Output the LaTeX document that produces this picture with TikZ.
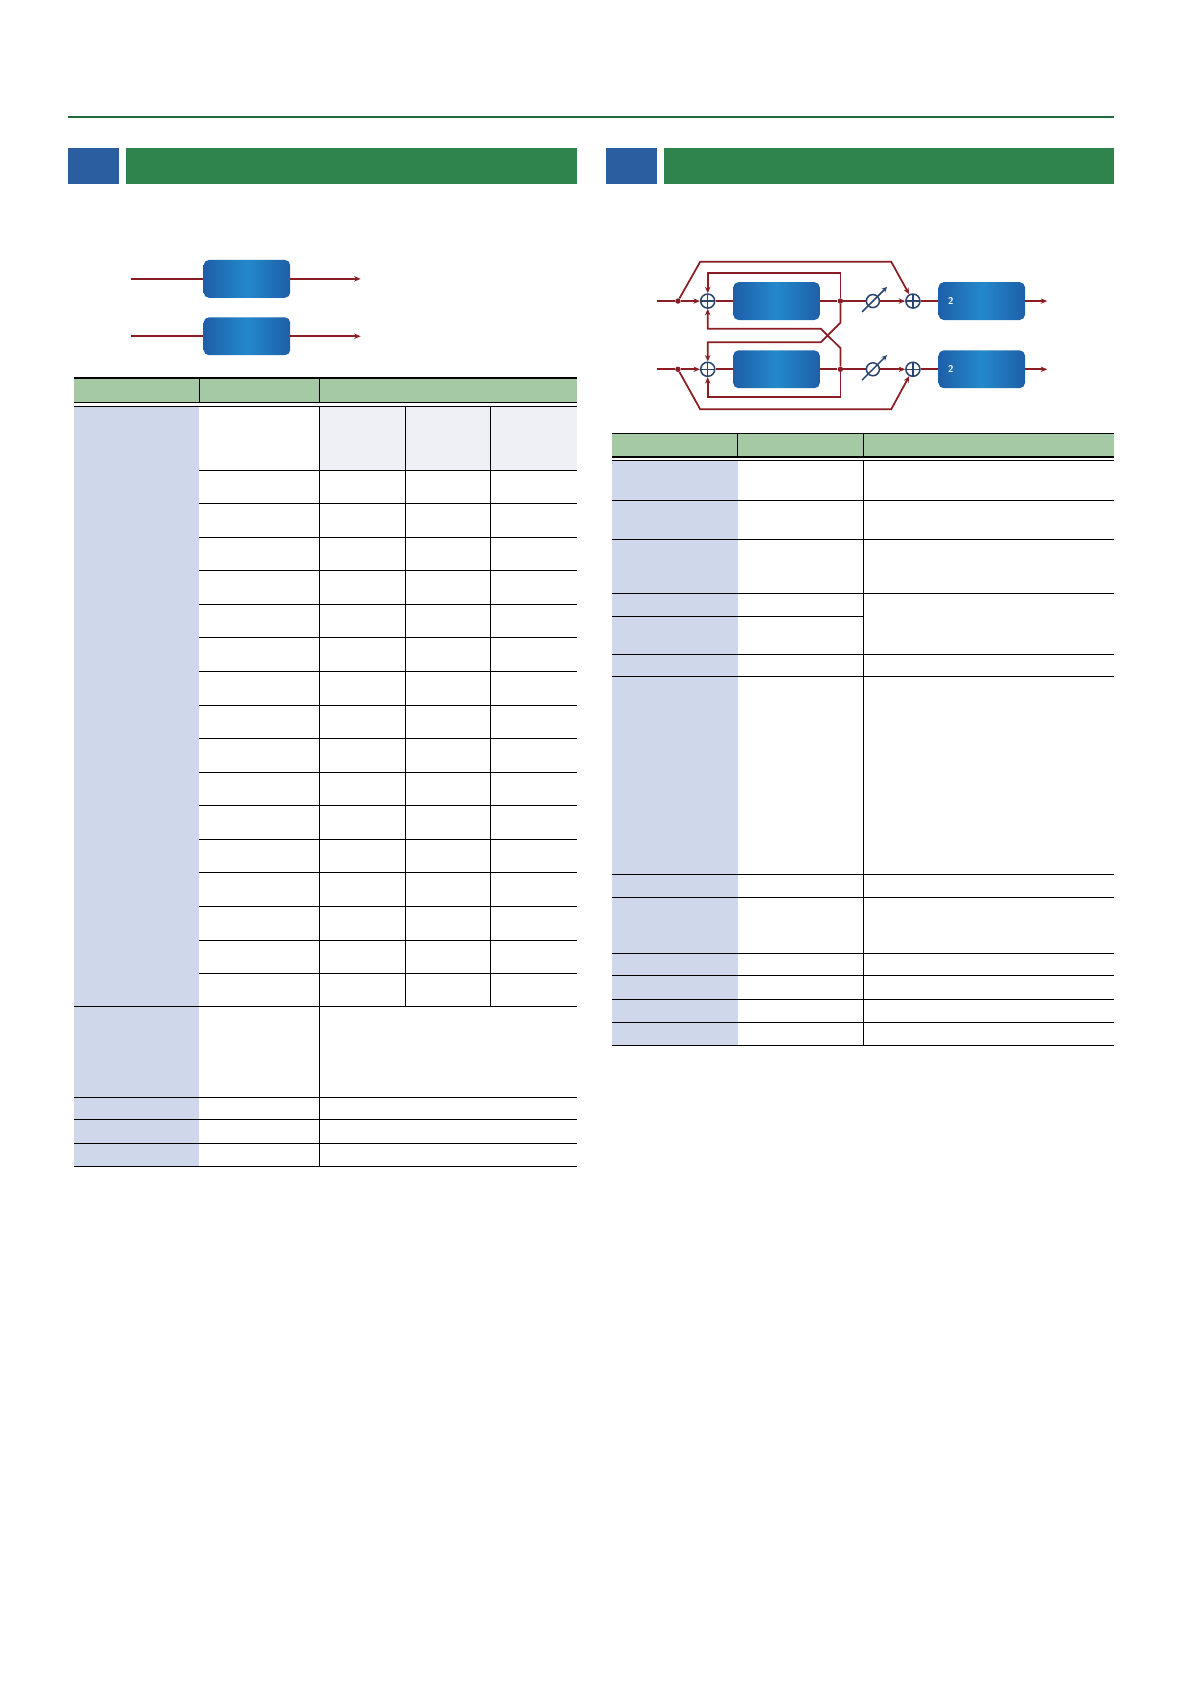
\documentclass[tikz,border=0pt]{standalone}
\usetikzlibrary{arrows.meta}
\definecolor{dgreen}{HTML}{1E6B3C}
\definecolor{bgreen}{HTML}{2E844C}
\definecolor{bblue}{HTML}{2A5EA0}
\definecolor{hgreen}{HTML}{A5C8A5}
\definecolor{lblue}{HTML}{CFD8EA}
\definecolor{llblue}{HTML}{EEF0F6}
\definecolor{wire}{HTML}{8B1E24}
\definecolor{navy}{HTML}{2A4470}
\definecolor{boxd}{HTML}{1E5FA8}
\definecolor{boxl}{HTML}{2488CC}
\tikzset{
 fx/.style={rounded corners=5pt,inner sep=0pt,draw=none,left color=boxd,right color=boxd,middle color=boxl,minimum width=80pt,minimum height=35pt},
 wr/.style={wire,line width=1.6pt},
 ar/.style={wr,-{Stealth[length=6pt,width=5pt]}},
 sumc/.style={circle,draw=navy,line width=1.4pt,minimum size=13pt,inner sep=0pt,fill=white,
   path picture={\draw[navy,line width=1.2pt](path picture bounding box.north)--(path picture bounding box.south)(path picture bounding box.west)--(path picture bounding box.east);}},
 gainc/.style={circle,draw=navy,line width=1.4pt,minimum size=12pt,inner sep=0pt,fill=white},
 dot/.style={circle,fill=wire,minimum size=5pt,inner sep=0pt},
 tl/.style={black,line width=0.8pt}
}
\begin{document}
\begin{tikzpicture}[x=1pt,y=-1pt]
\useasboundingbox (0,0) rectangle (1100,1555);
\fill[white] (0,0) rectangle (1100,1555);
% top rule
\draw[dgreen,line width=2.5pt] (63,108)--(1029,108);
% section bars
\fill[bblue] (63,137) rectangle (110,170);
\fill[bgreen] (116,137) rectangle (533,170);
\fill[bblue] (560,137) rectangle (607,170);
\fill[bgreen] (613,137) rectangle (1029,170);

% ===== left diagram =====
\node[fx] (la) at (228,257.5) {};
\node[fx] (lb) at (228,310.5) {};
\coordinate (lai) at (121,257.5); \coordinate (lao) at (333,257.5);
\coordinate (lbi) at (121,310.5); \coordinate (lbo) at (333,310.5);
\draw[wr] (lai)--(la.west); \draw[ar] (la.east)--(lao);
\draw[wr] (lbi)--(lb.west); \draw[ar] (lb.east)--(lbo);

% ===== left table =====
\fill[hgreen] (68,349) rectangle (533,372);
\fill[lblue] (68,375) rectangle (184,1077);
\fill[llblue] (295,375) rectangle (533,434);
\draw[tl,line width=1.1pt] (68,349)--(533,349);
\draw[tl,line width=1.1pt] (68,372)--(533,372);
\draw[tl] (68,375.5)--(533,375.5);
\draw[tl] (184,349)--(184,372) (295,349)--(295,372);
\foreach \y in {434,465,496,527,558,589,620,651,682,713,744,775,806,837,868,899}
  \draw[tl] (184,\y)--(533,\y);
\draw[tl] (68,929)--(533,929);
\foreach \y in {1013,1034,1056,1077} \draw[tl] (68,\y)--(533,\y);
\draw[tl] (295,375.5)--(295,1077);
\draw[tl] (374,375.5)--(374,929) (453,375.5)--(453,929);

% ===== right diagram =====
\coordinate (ia) at (607,278); \coordinate (ib) at (607,341);
\node[dot] (da) at (626,278) {}; \node[dot] (db) at (626,341) {};
\node[sumc] (sa) at (653.5,278) {}; \node[sumc] (sb) at (653.5,341) {};
\node[fx] (ra) at (717,278) {}; \node[fx] (rb) at (717,341) {};
\node[dot] (ja) at (776,278) {}; \node[dot] (jb) at (776,341) {};
\node[gainc] (ga) at (806,278) {}; \node[gainc] (gb) at (806,341) {};
\node[sumc] (ta) at (843,278) {}; \node[sumc] (tb) at (843,341) {};
\node[fx] (oa) at (906.5,278) {}; \node[fx] (ob) at (906.5,341) {};
\node[white,font=\bfseries\sffamily\small,anchor=west] at (872,278) {2};
\node[white,font=\bfseries\sffamily\small,anchor=west] at (872,341) {2};
\coordinate (ea) at (967,278); \coordinate (eb) at (967,341);
% main paths
\draw[wr] (ia)--(da); \draw[ar] (da)--(sa); \draw[wr] (sa)--(ra.west);
\draw[wr] (ra.east)--(ja)--(ga); \draw[ar] (ga)--(ta); \draw[wr] (ta)--(oa.west); \draw[ar] (oa.east)--(ea);
\draw[wr] (ib)--(db); \draw[ar] (db)--(sb); \draw[wr] (sb)--(rb.west);
\draw[wr] (rb.east)--(jb)--(gb); \draw[ar] (gb)--(tb); \draw[wr] (tb)--(ob.west); \draw[ar] (ob.east)--(eb);
% gain arrows
\draw[navy,line width=1.4pt,-{Stealth[length=5pt,width=5pt]}] (796,288)--(819,265);
\draw[navy,line width=1.4pt,-{Stealth[length=5pt,width=5pt]}] (796,351)--(819,328);
% outer bypass
\draw[ar] (da)--(646.5,241.8)--(823,241.8)--(ta);
\draw[ar] (db)--(646.5,377.8)--(823,377.8)--(tb);
% feedback
\draw[ar] (ja)--(776,252)--(653.5,252)--(sa);
\draw[ar] (jb)--(776,366.6)--(653.5,366.6)--(sb);
% cross feedback
\draw[ar] (ja)--(776,298)--(758,316)--(653.5,316)--(sb);
\draw[ar] (jb)--(776,321.4)--(758,303.6)--(653.5,303.6)--(sa);

% ===== right table =====
\fill[hgreen] (565,400) rectangle (1029,422);
\fill[lblue] (565,426) rectangle (681,965);
\draw[tl,line width=1.1pt] (565,400)--(1029,400);
\draw[tl,line width=1.1pt] (565,422)--(1029,422);
\draw[tl] (565,425.5)--(1029,425.5);
\draw[tl] (681,400)--(681,422) (797,400)--(797,422);
\foreach \y in {462,498,548,604,625,807,829,880,901,923,944,965} \draw[tl] (565,\y)--(1029,\y);
\draw[tl] (565,569)--(797,569);
\draw[tl] (797,425.5)--(797,965);
\end{tikzpicture}
\end{document}
